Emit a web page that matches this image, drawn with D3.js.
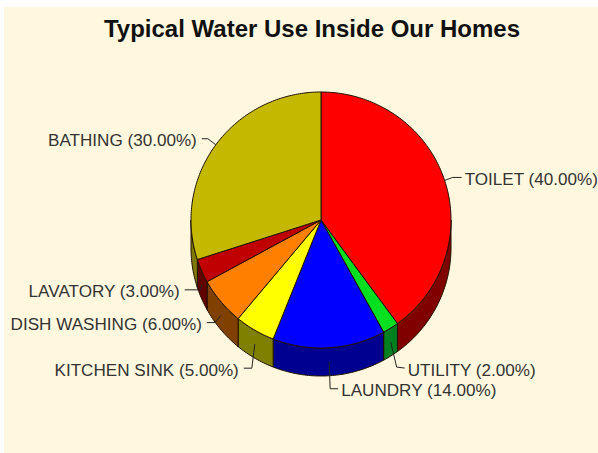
<!DOCTYPE html>
<html>
<head>
<meta charset="utf-8">
<script src="https://cdn.jsdelivr.net/npm/d3@7"></script>
<style>
  html, body { margin: 0; padding: 0; background: #fff; }
  svg { display: block; }
</style>
</head>
<body>
<div id="chart"></div>
<script>
var categories = ["TOILET", "UTILITY", "LAUNDRY", "KITCHEN SINK", "DISH WASHING", "LAVATORY", "BATHING"];
var values = [40, 2, 14, 5, 6, 3, 30];
var topColors = ["#ff0000", "#00e020", "#0000ff", "#ffff00", "#ff8000", "#c00000", "#c4b800"];
var sideColors = ["#800000", "#008020", "#000090", "#808000", "#804000", "#600000", "#807800"];

var w = 598, h = 453;
var cx = 321, cy = 220, rx = 130, ry = 128, depth = 28;

var svg = d3.select("#chart").append("svg")
    .attr("width", w)
    .attr("height", h);

svg.append("rect")
    .attr("x", 4).attr("y", 7)
    .attr("width", w - 4).attr("height", h - 7)
    .attr("fill", "#fff8de");

svg.append("text")
    .attr("x", 312).attr("y", 37)
    .attr("text-anchor", "middle")
    .style("font", "bold 24px 'Liberation Sans'")
    .attr("fill", "#111")
    .text("Typical Water Use Inside Our Homes");

var slices = d3.pie().sort(null)(values);

function px(a) { return cx + rx * Math.sin(a); }
function py(a) { return cy - ry * Math.cos(a); }

function arcTo(p, a0, a1, dy) {
  var n = Math.max(2, Math.ceil(Math.abs(a1 - a0) * 60));
  d3.range(1, n + 1).forEach(function(i) {
    var a = a0 + (a1 - a0) * i / n;
    p.lineTo(px(a), py(a) + dy);
  });
}

// top face of a slice, sweeping clockwise from 12 o'clock
function topPath(d) {
  var p = d3.path();
  p.moveTo(cx, cy);
  p.lineTo(px(d.startAngle), py(d.startAngle));
  arcTo(p, d.startAngle, d.endAngle, 0);
  p.closePath();
  return p.toString();
}

// front wall, only the part between 3 and 9 o'clock shows
function sidePath(d) {
  var a0 = Math.max(d.startAngle, Math.PI / 2);
  var a1 = Math.min(d.endAngle, Math.PI * 1.5);
  if (a1 <= a0) return null;
  var p = d3.path();
  p.moveTo(px(a0), py(a0));
  arcTo(p, a0, a1, 0);
  p.lineTo(px(a1), py(a1) + depth);
  arcTo(p, a1, a0, depth);
  p.closePath();
  return p.toString();
}

svg.selectAll("path.side")
    .data(slices.filter(sidePath))
    .enter().append("path")
    .attr("class", "side")
    .attr("d", sidePath)
    .attr("fill", function(d) { return sideColors[d.index]; })
    .attr("stroke", "#201000")
    .attr("stroke-width", 1);

svg.selectAll("path.top")
    .data(slices)
    .enter().append("path")
    .attr("class", "top")
    .attr("d", topPath)
    .attr("fill", function(d) { return topColors[d.index]; })
    .attr("stroke", "#201000")
    .attr("stroke-width", 1);

// leader layout: elbow dx, elbow dy, end dx, end dy from the anchor on the pie, text side
var leaderLayout = [
  [8, -3, 17, -3, "start"],
  [6, 25, 14, 26, "start"],
  [1, 27, 9, 27, "start"],
  [-3, 24, -11, 24, "end"],
  [-6, 7, -14, 7, "end"],
  [-1, 5, -17, 5, "end"],
  [-8, -6, -14, -6, "end"]
];

function anchor(d) {
  var mid = (d.startAngle + d.endAngle) / 2;
  var front = Math.cos(mid) < 0;
  return [px(mid), py(mid) + (front ? depth / 2 : 0)];
}

slices.forEach(function(d) {
  var a = anchor(d), l = leaderLayout[d.index];
  var line = d3.line();
  svg.append("path")
      .attr("d", line([a, [a[0] + l[0], a[1] + l[1]], [a[0] + l[2], a[1] + l[3]]]))
      .attr("fill", "none")
      .attr("stroke", "#222")
      .attr("stroke-width", 1);
  svg.append("text")
      .attr("x", a[0] + l[2] + (l[4] === "start" ? 3 : -5))
      .attr("y", a[1] + l[3] + 7.5)
      .attr("text-anchor", l[4])
      .style("font", "17.1px 'Liberation Sans'")
      .attr("fill", "#333")
      .text(categories[d.index] + " (" + values[d.index].toFixed(2) + "%)");
});
</script>
</body>
</html>
